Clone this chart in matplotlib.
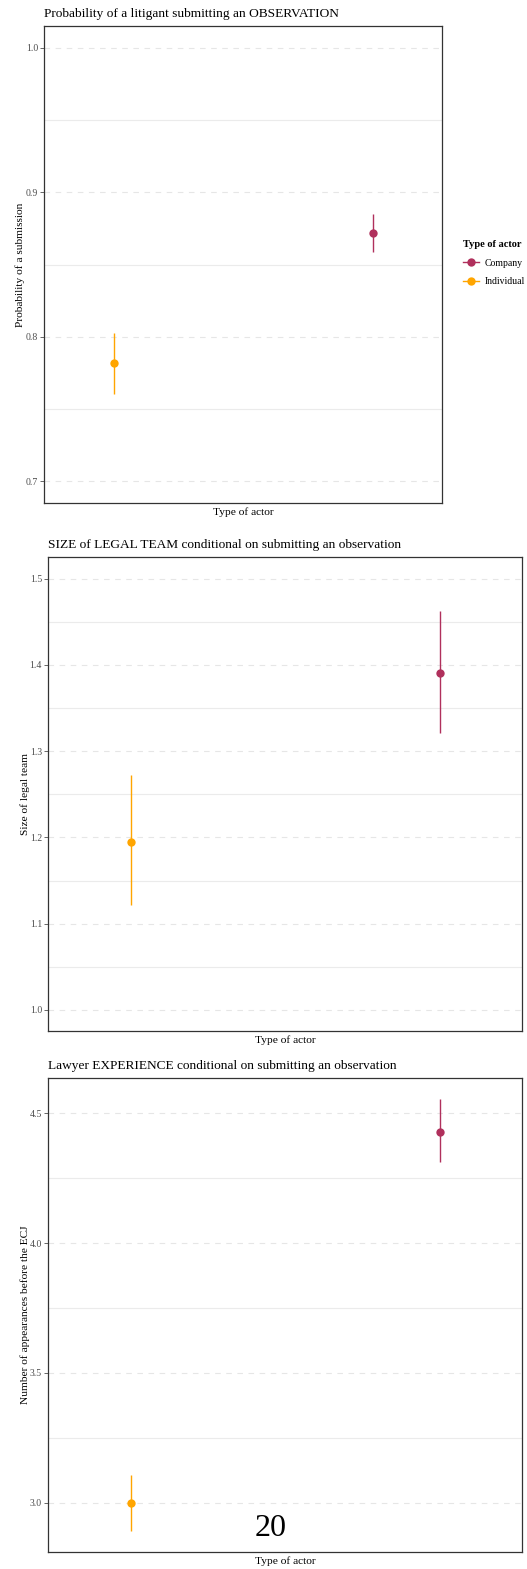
import matplotlib
matplotlib.use('Agg')
import matplotlib.pyplot as plt
from matplotlib.lines import Line2D

plt.rcParams['font.family'] = ['Liberation Serif', 'DejaVu Serif']

# actor types, drawn left to right
actors = ['Individual', 'Company']
actor_colors = {'Company': '#B0305C', 'Individual': '#FFA500'}

# panel 1: probability of an observation
obs_est = [0.782, 0.872]
obs_lo = [0.7606, 0.8588]
obs_hi = [0.8023, 0.8851]
obs_ticks = [0.7, 0.8, 0.9, 1.0]

# panel 2: size of legal team
team_est = [1.195, 1.391]
team_lo = [1.1217, 1.3214]
team_hi = [1.2724, 1.4631]
team_ticks = [1.0, 1.1, 1.2, 1.3, 1.4, 1.5]

# panel 3: lawyer experience
exp_est = [2.999, 4.429]
exp_lo = [2.892, 4.310]
exp_hi = [3.107, 4.554]
exp_ticks = [3.0, 3.5, 4.0, 4.5]

W, H = 527, 1569


def box(l, t, r, b):
    return [l / W, 1 - b / H, (r - l) / W, (b - t) / H]


def panel(fig, rect, title, ylabel, est, lo, hi, ticks, ylim, ylabel_x):
    ax = fig.add_axes(box(*rect))
    for i, a in enumerate(actors):
        c = actor_colors[a]
        ax.vlines(i, lo[i], hi[i], color=c, lw=1.0, zorder=3)
        ax.plot(i, est[i], 'o', color=c, ms=6, mec='none', zorder=4)
    ax.set_xlim(-0.27, 1.266)
    ax.set_ylim(*ylim)
    ax.set_xticks([])
    ax.set_yticks(ticks)
    ax.set_yticklabels([f'{t:.1f}' for t in ticks])
    step = ticks[1] - ticks[0]
    minor = [t + step / 2 for t in ticks[:-1]]
    if ticks[-1] + step / 2 < ylim[1]:
        minor.append(ticks[-1] + step / 2)
    if ticks[0] - step / 2 > ylim[0]:
        minor.insert(0, ticks[0] - step / 2)
    for m in minor:
        ax.axhline(m, color='#EBEBEB', lw=0.8, zorder=1)
    for t in ticks:
        ax.axhline(t, color='#E6E6E6', lw=0.8, ls=(0, (5, 5)), zorder=1)
    ax.tick_params(axis='y', labelsize=7, colors='#4D4D4D', length=2.8,
                   width=0.6, pad=1.5)
    for s in ax.spines.values():
        s.set_color('#333333')
        s.set_linewidth(0.9)
    ax.set_xlabel('Type of actor', fontsize=8.2, labelpad=3)
    ax.set_ylabel(ylabel, fontsize=8.2)
    ax.yaxis.set_label_coords(ylabel_x, 0.5)
    fig.text(rect[0] / W, 1 - (rect[1] - 12) / H, title, fontsize=9.65,
             ha='left', va='center')
    return ax


fig = plt.figure(figsize=(W / 100, H / 100), dpi=100)

panel(fig, (44, 26, 442, 503),
      'Probability of a litigant submitting an OBSERVATION',
      'Probability of a submission', obs_est, obs_lo, obs_hi,
      obs_ticks, (0.6848, 1.0152), -0.047)

panel(fig, (48, 557, 522, 1031),
      'SIZE of LEGAL TEAM conditional on submitting an observation',
      'Size of legal team', team_est, team_lo, team_hi,
      team_ticks, (0.9756, 1.5252), -0.039)

panel(fig, (48, 1078, 522, 1552),
      'Lawyer EXPERIENCE conditional on submitting an observation',
      'Number of appearances before the ECJ', exp_est, exp_lo, exp_hi,
      exp_ticks, (2.811, 4.635), -0.039)

# legend for the first panel
handles = [Line2D([0], [0], color=actor_colors[a], lw=1.0, marker='o',
                  ms=6, mec='none') for a in ['Company', 'Individual']]
leg = fig.legend(handles, ['Company', 'Individual'], title='Type of actor',
                 loc='center left', bbox_to_anchor=(463 / W, 1 - 263 / H),
                 frameon=False, fontsize=7, handlelength=1.6,
                 handletextpad=0.6, labelspacing=0.95, borderaxespad=0,
                 borderpad=0)
leg.get_title().set_fontweight('bold')
leg.get_title().set_fontsize(7.5)
leg._legend_box.align = 'left'
leg._legend_box.sep = 7

# page number
fig.text(271 / W, 1 - 1529 / H, '20', fontsize=23, ha='center', va='center')

fig.savefig('out.png', dpi=100)
